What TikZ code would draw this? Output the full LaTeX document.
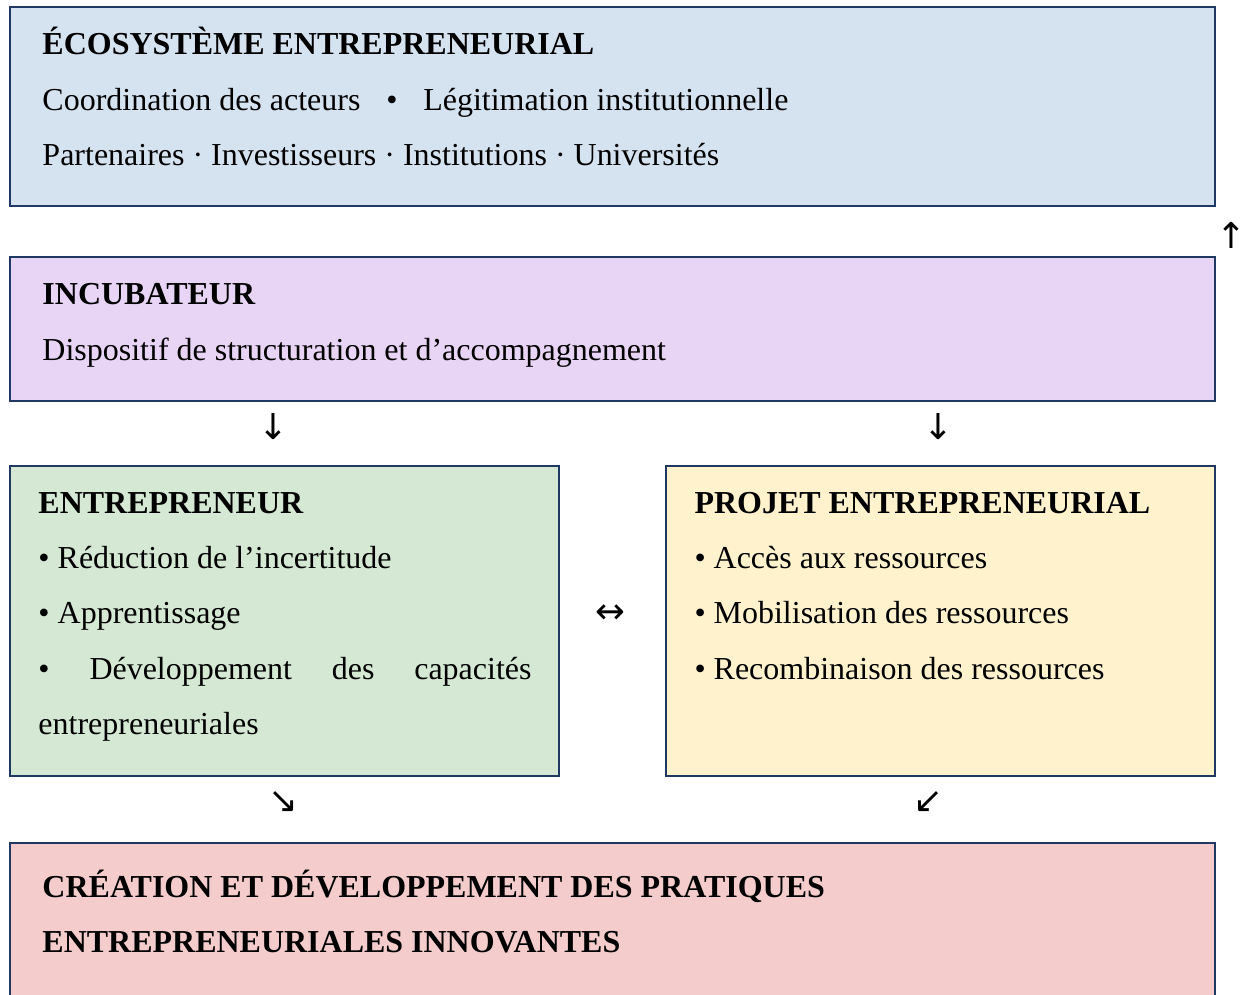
\documentclass[tikz,border=0pt]{standalone}
\usepackage{fontspec}
\setmainfont{Liberation Serif}
\newfontfamily\arrowfont{DejaVu Sans}
\usetikzlibrary{fit}

\definecolor{boxline}{HTML}{1F3864}
\definecolor{ecoblue}{HTML}{D5E3F0}
\definecolor{incubviolet}{HTML}{E8D4F4}
\definecolor{entrgreen}{HTML}{D5E8D4}
\definecolor{projyellow}{HTML}{FFF2CC}
\definecolor{creapink}{HTML}{F4CCCC}

\begin{document}
\begin{tikzpicture}[
        x=0.4065pt, y=-0.4065pt,
        box/.style={draw=boxline, line width=0.8pt, inner sep=0pt},
        txt/.style={anchor=base west, inner sep=0pt, font=\fontsize{13}{15}\selectfont},
        head/.style={txt, font=\fontsize{13}{15}\selectfont\bfseries},
        sym/.style={inner sep=0pt, font=\arrowfont\fontsize{14.5}{16}\selectfont},
    ]
    \useasboundingbox (0,0) rectangle (1247,994);

        % Draw the boxes
        \node[box, fill=ecoblue, fit={(10,7) (1215,206)}] (eco) {};
        \node[box, fill=incubviolet, fit={(10,257) (1215,401)}] (incub) {};
        \node[box, fill=entrgreen, fit={(10,466) (559,776)}] (entr) {};
        \node[box, fill=projyellow, fit={(666,466) (1215,776)}] (proj) {};
        \node[box, fill=creapink, fit={(10,843) (1215,1010)}] (crea) {};

        % Ecosystem texts
        \node[head] (eco-title) at (42,54) {ÉCOSYSTÈME ENTREPRENEURIAL};
        \node[txt] (eco-1) at (42,110) {Coordination des acteurs\hspace{10.5pt}•\hspace{10.5pt}Légitimation institutionnelle};
        \node[txt] (eco-2) at (42,165) {Partenaires · Investisseurs · Institutions · Universités};

        % Incubator texts
        \node[head] (incub-title) at (42,304) {INCUBATEUR};
        \node[txt] (incub-1) at (42,360) {Dispositif de structuration et d’accompagnement};

        % Entrepreneur texts
        \node[head] (entr-title) at (38,513) {ENTREPRENEUR};
        \node[txt] (entr-1) at (38,568) {• Réduction de l’incertitude};
        \node[txt] (entr-2) at (38,623) {• Apprentissage};
        \node[txt] (entr-3) at (38,679) {\makebox[200.4pt][s]{• Développement des capacités}};
        \node[txt] (entr-4) at (38,734) {entrepreneuriales};

        % Project texts
        \node[head] (proj-title) at (694,513) {PROJET ENTREPRENEURIAL};
        \foreach \name / \y / \line in {1/568/Accès aux ressources, 2/623/Mobilisation des ressources, 3/679/Recombinaison des ressources}
            \node[txt] (proj-\name) at (694,\y) {• \line};

        % Creation texts
        \node[head] (crea-1) at (42,897) {CRÉATION ET DÉVELOPPEMENT DES PRATIQUES};
        \node[head] (crea-2) at (42,952) {ENTREPRENEURIALES INNOVANTES};

        % Arrow signs between the boxes
        \node[sym, anchor=east] (up) at (1247,235) {↑};
        \node[sym] (down-1) at (273,427) {↓};
        \node[sym] (down-2) at (938,427) {↓};
        \node[sym] (both) at (610,614) {↔};
        \node[sym] (diag-1) at (283,802) {↘};
        \node[sym] (diag-2) at (928,802) {↙};
    \end{tikzpicture}
\end{document}
